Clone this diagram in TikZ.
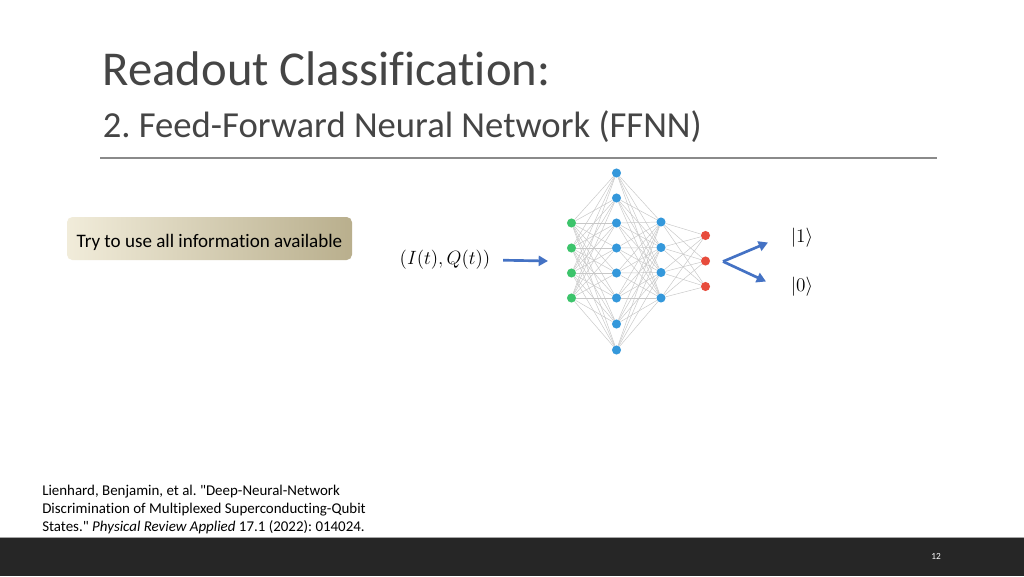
\documentclass[tikz,border=0pt]{standalone}
\usepackage{fontspec}
\setmainfont{Carlito}[Ligatures=NoCommon]
\usetikzlibrary{arrows.meta}
\pgfdeclarelayer{background}
\pgfdeclarelayer{paper}
\pgfsetlayers{paper,background,main}
\definecolor{titlegray}{HTML}{454545}
\definecolor{rulegray}{HTML}{8A8A8A}
\definecolor{ngreen}{HTML}{3CC46B}
\definecolor{nblue}{HTML}{3498DB}
\definecolor{nred}{HTML}{E74C3C}
\definecolor{arrblue}{HTML}{4472C4}
\definecolor{boxleft}{HTML}{F1ECDA}
\definecolor{boxright}{HTML}{B9AF8D}
\definecolor{footer}{HTML}{262626}
\definecolor{edgegray}{HTML}{C8C8C8}
\frenchspacing
\begin{document}
\begin{tikzpicture}[x=0.75pt,y=-0.75pt,
  neuron/.style={circle,inner sep=0pt,minimum size=6.8pt,draw=none},
  nnedge/.style={draw=edgegray,line width=0.35pt},
  bigarrow/.style={draw=arrblue,line width=2pt,-{Triangle[length=7pt,width=7.5pt]}},
  txt/.style={inner sep=0pt,text=titlegray}]
\useasboundingbox (0,0) rectangle (1024,576);
\begin{pgfonlayer}{paper}
\fill[white] (0,0) rectangle (1024,576);
\end{pgfonlayer}

% title
\node[txt,anchor=base west,font=\fontsize{36.5}{40}\selectfont] (title) at (102.5,85) {Readout Classification:};
\node[txt,anchor=base west,font=\fontsize{27.5}{34}\selectfont] (sub) at (102.5,137) {2. Feed-Forward Neural Network (FFNN)};
\coordinate (r1) at (100,158);
\coordinate (r2) at (937,158);
\draw[rulegray,line width=0.8pt] (r1) -- (r2);

% box
\node[rounded corners=4pt,left color=boxleft,right color=boxright,minimum width=213.75pt,minimum height=32.25pt,inner sep=0pt,text height=13.8pt,text depth=0pt,text=black,font=\fontsize{14.3}{17}\selectfont] (box) at (209.5,238.5) {Try to use all information available};

% network
\foreach \i/\y in {1/223,2/248,3/273,4/298}
  \node[neuron,fill=ngreen] (a\i) at (571.5,\y) {};
\foreach \i/\y in {1/173,2/198,3/223,4/248,5/273,6/298,7/324,8/350}
  \node[neuron,fill=nblue] (b\i) at (616.5,\y) {};
\foreach \i/\y in {1/222,2/247.5,3/272.5,4/298}
  \node[neuron,fill=nblue] (c\i) at (661,\y) {};
\foreach \i/\y in {1/235.5,2/261,3/286.5}
  \node[neuron,fill=nred] (d\i) at (705.5,\y) {};
\begin{pgfonlayer}{background}
\foreach \i in {1,...,4} \foreach \j in {1,...,8} \draw[nnedge] (a\i) -- (b\j);
\foreach \i in {1,...,8} \foreach \j in {1,...,4} \draw[nnedge] (b\i) -- (c\j);
\foreach \i in {1,...,4} \foreach \j in {1,...,3} \draw[nnedge] (c\i) -- (d\j);
\end{pgfonlayer}

% input
\node[inner sep=0pt,font=\fontsize{14}{17}\selectfont] (iq) at (445,260) {$(I(t),Q(t))$};
\coordinate (inend) at (548,261);
\draw[bigarrow,shorten <=9.5pt] (iq.east) -- (inend);

% outputs
\node[inner sep=0pt,font=\fontsize{14.5}{17}\selectfont] (ket1) at (802,238) {$|1\rangle$};
\node[inner sep=0pt,font=\fontsize{14.5}{17}\selectfont] (ket0) at (802,287) {$|0\rangle$};
\coordinate (split) at (723,261.5);
\coordinate (o1) at (768,242.5);
\coordinate (o0) at (766,281.5);
\draw[bigarrow] (split) -- (o1);
\draw[bigarrow] (split) -- (o0);

% citation
\node[anchor=north west,inner sep=0pt,align=left,text=black,font=\fontsize{11.2}{13.5}\selectfont] (cite) at (42,485)
 {Lienhard, Benjamin, et al. \textquotedbl Deep-Neural-Network\\Discrimination of Multiplexed Superconducting-Qubit\\States.\textquotedbl{} \textit{Physical Review Applied} 17.1 (2022): 014024.};

% footer
\fill[footer] (0,537) rectangle (1024,576);
\draw[gray!70,line width=0.75pt] (0,537.5) -- (1024,537.5);
\node[inner sep=0pt,text=white,font=\fontsize{7}{8}\selectfont] (page) at (936,556) {12};
\end{tikzpicture}
\end{document}
